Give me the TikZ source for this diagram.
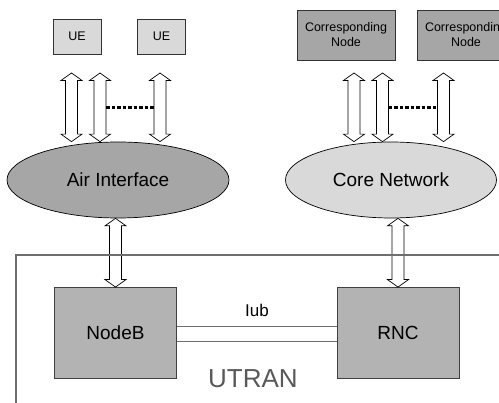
\documentclass[tikz,border=0pt]{standalone}
\usepackage{fontspec}
\setmainfont{Liberation Sans}
\usetikzlibrary{shapes.geometric,calc}
\definecolor{uegray}{HTML}{D9D9D9}
\definecolor{cngray}{HTML}{A6A6A6}
\definecolor{boxgray}{HTML}{B3B3B3}
\definecolor{linegray}{HTML}{6E6E6E}
\definecolor{textgray}{HTML}{595959}
\tikzset{
	uebox/.style={draw=black!80, fill=uegray, minimum width=48, minimum height=35, font=\fontsize{12.5}{15}\selectfont},
	cnbox/.style={draw=black!80, fill=cngray, minimum width=98, minimum height=50, align=center, font=\fontsize{12.5}{15}\selectfont},
	cloud/.style={ellipse, draw=black, line width=0.7pt, minimum height=76, font=\fontsize{19}{22}\selectfont},
	unitbox/.style={draw=black!75, fill=boxgray, minimum width=122, minimum height=91, font=\fontsize{19}{22}\selectfont},
	blockarrow/.style={draw=black, fill=white, line width=0.7pt, line join=miter},
	dotline/.style={line width=2.4pt, dash pattern=on 3.5pt off 2pt},
	iubline/.style={draw=linegray, line width=1pt}
}
\newcommand{\dblarrow}[2]{%
	\draw[blockarrow] let \p1=#1, \p2=#2 in
		(\x1,\y1) -- (\x1+10.5pt,\y1-7.5pt) -- (\x1+6pt,\y1-7.5pt) -- (\x1+6pt,\y2+7.5pt) -- (\x1+10.5pt,\y2+7.5pt) -- (\x1,\y2)
		-- (\x1-10.5pt,\y2+7.5pt) -- (\x1-6pt,\y2+7.5pt) -- (\x1-6pt,\y1-7.5pt) -- (\x1-10.5pt,\y1-7.5pt) -- cycle;
}
\begin{document}
\begin{tikzpicture}[x=1pt,y=-1pt]
	\useasboundingbox (0,0) rectangle (499,403);
	\clip (0,0) rectangle (499,403);
	\node[uebox] (ue1) at (77,36.5){UE};
	\node[uebox] (ue2) at (161.5,36.5){UE};
	\node[cnbox] (cn1) at (346,35){Corresponding\\Node};
	\node[cnbox] (cn2) at (466,35){Corresponding\\Node};
	\node[cloud, fill=cngray, minimum width=222] (air) at (118,180){Air Interface};
	\node[cloud, fill=uegray, minimum width=211] (core) at (391,180){Core Network};
	\node[unitbox] (nodeb) at (115.5,332.8){NodeB};
	\node[unitbox] (rnc) at (398,332.8){RNC};
	\coordinate (a1) at (71.5,73);
	\coordinate (a2) at (100,73);
	\coordinate (a3) at (160,73);
	\coordinate (c1) at (354,73);
	\coordinate (c2) at (382.5,73);
	\coordinate (c3) at (443.5,73);
	\dblarrow{(a1)}{(a1 |- air.north)}
	\dblarrow{(a2)}{(a2 |- air.north)}
	\dblarrow{(a3)}{(a3 |- air.north)}
	\dblarrow{(c1)}{(c1 |- core.north)}
	\dblarrow{(c2)}{(c2 |- core.north)}
	\dblarrow{(c3)}{(c3 |- core.north)}
	\draw[dotline] ($(a2)!0.5!(a2 |- air.north) + (6,0)$) -- ($(a3)!0.5!(a3 |- air.north) + (-6,0)$);
	\draw[dotline] ($(c2)!0.5!(c2 |- core.north) + (6,0)$) -- ($(c3)!0.5!(c3 |- core.north) + (-6,0)$);
	\dblarrow{(nodeb.north |- air.south)}{(nodeb.north)}
	\dblarrow{(rnc.north |- core.south)}{(rnc.north)}
	\draw[iubline] ([yshift=5.8pt]nodeb.east) -- ([yshift=5.8pt]rnc.west);
	\draw[iubline] ([yshift=-8.9pt]nodeb.east) -- ([yshift=-8.9pt]rnc.west);
	\node[font=\fontsize{17}{20}\selectfont] (iub) at (257,310.5){Iub};
	\node[textgray, font=\fontsize{26}{30}\selectfont] (utran) at (253,378.5){UTRAN};
	\draw[linegray, line width=1.2pt] (16,420) -- (16,255) -- (520,255);
\end{tikzpicture}
\end{document}
